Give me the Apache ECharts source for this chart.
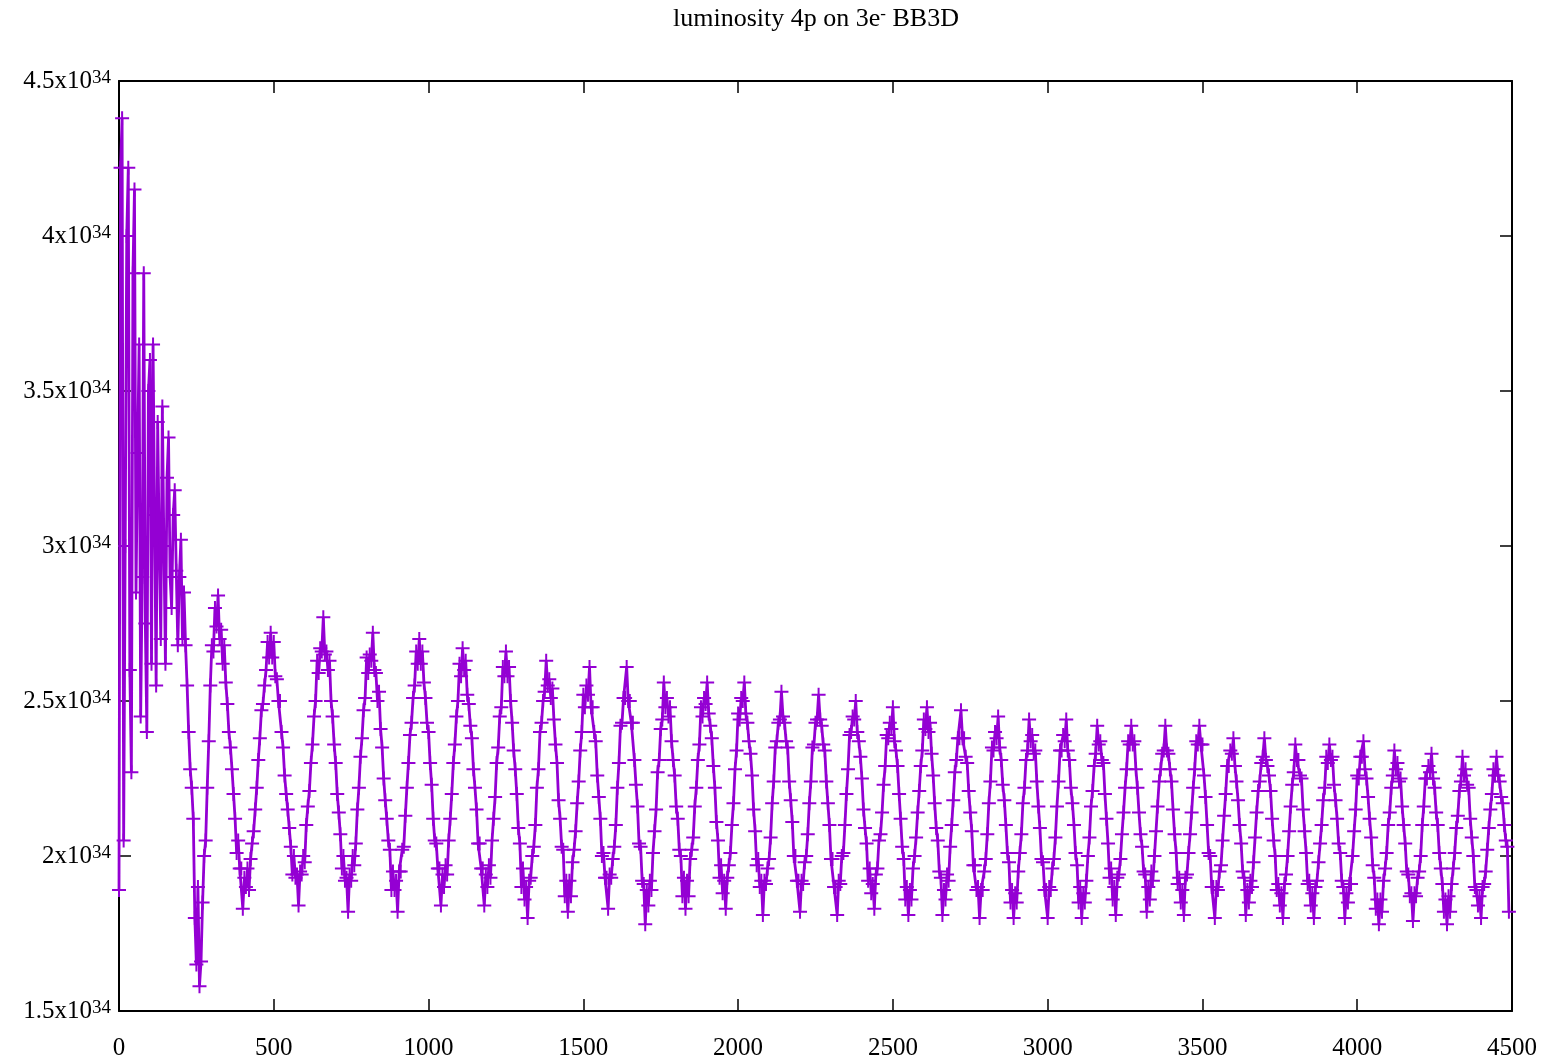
<!DOCTYPE html>
<html><head><meta charset="utf-8">
<script src="https://cdn.jsdelivr.net/npm/echarts@6/dist/echarts.min.js"></script>
<style>html,body{margin:0;padding:0;background:#fff}#c{width:1547px;height:1060px}</style>
</head><body><div id="c"></div>
<script>
// ---- data ----
const titleMain = 'luminosity 4p on 3e';
const titleSup = '-';
const titleTail = ' BB3D';
const turnStart = 0;      // first turn
const turnStep = 5;       // turns between samples
const yExponent = 34;     // luminosity unit 1e34
// luminosity in units of 1e32 (245 -> 2.45x10^34), one value per sample (turn 0,5,10,...)
const lumiE32 = [
189,422,438,205,300,400,422,260,227,388,415,285,330,365,245,290,388,275,240,350,
360,262,365,310,255,340,300,270,345,300,262,322,335,290,280,310,318,292,268,290,
302,270,285,268,255,240,228,222,212,180,165,190,158,166,185,200,205,222,237,255,
268,266,280,274,284,270,273,262,268,256,249,240,235,228,220,212,201,205,196,196,
183,193,190,196,189,199,204,208,215,222,231,238,247,249,255,260,269,264,272,264,
269,258,257,250,250,240,235,226,220,215,209,203,194,200,193,194,184,195,194,200,
198,210,216,221,230,236,245,250,263,259,267,266,277,265,266,260,263,250,245,236,
230,220,214,207,196,200,192,193,182,194,192,200,197,204,215,222,232,238,247,251,
264,259,265,263,272,260,259,250,253,241,235,225,218,212,205,202,189,195,189,192,
182,195,195,202,203,213,222,230,239,243,251,255,266,262,270,262,266,256,251,243,
240,230,223,212,205,204,196,196,184,194,190,197,194,205,212,220,230,236,245,250,
262,258,267,260,263,252,249,242,238,228,222,215,204,204,196,196,184,194,190,197,
193,205,212,219,230,235,245,248,261,258,266,258,261,250,243,234,228,220,209,204,
190,196,186,190,180,192,193,200,203,210,222,228,240,243,250,253,263,255,257,251,
254,244,236,230,218,212,203,202,187,192,182,192,187,198,202,208,217,224,234,240,
252,248,255,252,261,248,248,240,237,226,219,212,200,201,193,193,183,194,193,199,
203,210,222,230,242,243,251,251,261,250,250,243,243,231,223,216,204,203,192,191,
178,189,184,192,189,201,208,215,227,231,241,244,256,248,251,245,248,237,231,226,
216,212,202,200,187,193,183,192,187,199,202,206,216,222,231,236,248,245,251,249,
256,246,242,238,229,222,211,205,193,197,188,192,183,193,197,201,210,217,228,234,
246,244,251,250,256,246,243,237,233,226,215,208,197,199,190,192,181,192,191,196,
199,206,217,224,235,237,243,244,253,245,243,237,235,224,218,211,200,200,192,192,
182,192,191,198,200,207,217,224,235,236,243,244,252,244,242,236,234,224,217,210,
199,199,190,190,181,192,191,200,201,210,220,228,239,240,245,244,250,240,237,232,
225,215,209,204,192,196,188,191,183,194,196,205,207,214,223,229,239,238,243,241,
248,237,234,229,220,212,203,199,186,190,181,189,186,196,200,206,214,221,229,234,
244,241,248,240,243,233,226,217,209,205,195,193,181,189,186,194,192,203,210,218,
227,231,238,238,247,238,238,232,230,221,214,208,197,197,189,190,180,189,189,195,
199,207,217,224,235,234,240,238,245,235,231,223,218,210,201,198,185,189,180,188,
185,195,201,207,217,222,231,234,244,237,239,233,234,224,216,209,199,198,189,189,
180,190,189,196,199,206,216,224,234,234,239,237,244,234,231,222,217,210,201,197,
185,190,180,188,185,192,200,206,216,221,229,233,242,236,237,231,230,220,212,204,
193,196,186,190,181,193,194,199,207,214,222,228,237,236,242,236,237,228,222,214,
207,203,195,194,182,190,186,195,192,200,208,216,224,228,233,234,242,234,233,228,
224,215,207,201,191,193,185,189,181,193,194,201,207,214,222,228,237,236,242,236,
236,226,219,210,201,200,190,190,180,190,189,195,197,205,213,220,229,229,234,233,
238,229,224,218,210,204,195,193,181,189,185,192,190,198,206,214,221,224,230,232,
238,231,229,226,221,212,205,200,189,191,184,188,180,191,194,200,208,216,223,227,
236,231,231,226,225,215,208,201,191,192,184,188,180,190,192,198,204,210,218,222,
232,230,236,231,232,223,218,212,204,201,192,190,180,188,185,191,191,200,208,215,
226,225,232,232,237,228,225,219,212,206,197,193,183,186,178,186,182,192,196,201,
210,214,222,226,234,228,230,224,225,216,210,204,195,194,187,188,179,188,187,193,
195,200,210,216,225,225,229,227,233,225,222,214,210,201,196,191,182,186,178,187,
182,191,196,201,209,213,221,224,232,226,228,223,222,212,206,200,190,189,184,187,
180,190,191,195,202,209,215,220,228,226,232,226,224,219,217,210,205,203,182
];
const xTickValues = [0,500,1000,1500,2000,2500,3000,3500,4000,4500];
const yTickValues = [1.5,2,2.5,3,3.5,4,4.5]; // in units of 1e34

// ---- chart ----
const FONT = '"Liberation Serif","Times New Roman",serif';
const COLOR = '#9400D3';
const seriesData = lumiE32.map((v, i) => [turnStart + i * turnStep, v / 100]);

const chart = echarts.init(document.getElementById('c'), null, {renderer: 'canvas'});
const axisLine = {show: true, onZero: false, lineStyle: {color: '#000', width: 2}};
const axisTick = {show: true, inside: true, length: 12, lineStyle: {color: '#000', width: 1.5}};
const xCommon = {type: 'value', min: xTickValues[0], max: xTickValues[xTickValues.length - 1],
  interval: xTickValues[1] - xTickValues[0], axisLine, axisTick, splitLine: {show: false}};
const yCommon = {type: 'value', min: yTickValues[0], max: yTickValues[yTickValues.length - 1],
  interval: yTickValues[1] - yTickValues[0], axisLine, axisTick, splitLine: {show: false}};

chart.setOption({
  animation: false,
  backgroundColor: '#fff',
  grid: {left: 119, right: 35, top: 81, bottom: 49, containLabel: false, outerBoundsMode: 'none'},
  graphic: [{
    type: 'text', x: 816, y: 19, silent: true,
    style: {
      text: '{a|' + titleMain + '}{s|' + titleSup + '}{a|' + titleTail + '}',
      align: 'center', verticalAlign: 'middle',
      rich: {
        a: {fontFamily: FONT, fontSize: 26, fill: '#000', lineHeight: 26, verticalAlign: 'bottom'},
        s: {fontFamily: FONT, fontSize: 17, fill: '#000', lineHeight: 17, verticalAlign: 'top', padding: [0, 0, 14, 0]}
      }
    }
  }],
  xAxis: [
    Object.assign({}, xCommon, {position: 'bottom',
      axisLabel: {margin: 25, fontFamily: FONT, fontSize: 25, color: '#000', formatter: v => String(v)}}),
    Object.assign({}, xCommon, {position: 'top', axisLabel: {show: false}})
  ],
  yAxis: [
    Object.assign({}, yCommon, {position: 'left',
      axisLabel: {margin: 8, color: '#000',
        formatter: v => '{m|' + v + 'x10}{s|' + yExponent + '}',
        rich: {
          m: {fontFamily: FONT, fontSize: 25, lineHeight: 25, verticalAlign: 'middle', color: '#000'},
          s: {fontFamily: FONT, fontSize: 19, lineHeight: 19, verticalAlign: 'top', padding: [0, 0, 26, 0], color: '#000'}
        }}}),
    Object.assign({}, yCommon, {position: 'right', axisLabel: {show: false}})
  ],
  series: [{
    type: 'line',
    data: seriesData,
    clip: false,
    silent: true,
    symbol: 'path://M0,6H14V8H0Z M6,0H8V14H6Z',
    symbolSize: 14,
    showSymbol: true,
    showAllSymbol: true,
    sampling: 'none',
    lineStyle: {color: COLOR, width: 2.8},
    itemStyle: {color: COLOR}
  }]
});
</script>
</body></html>
